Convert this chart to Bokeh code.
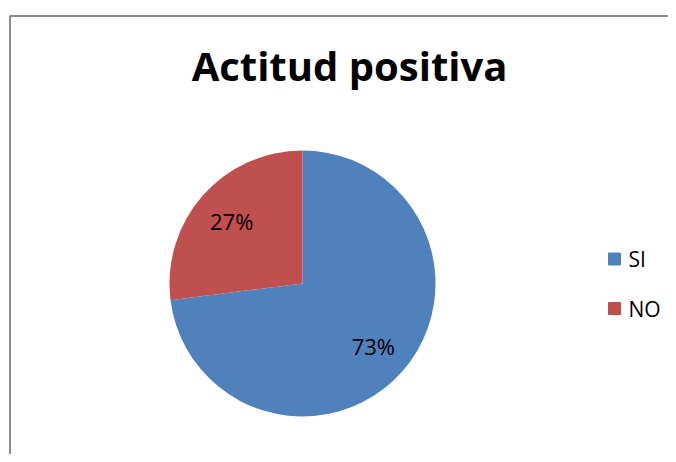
import math
from bokeh.plotting import figure
from bokeh.models import Range1d
from bokeh.core.properties import value
from bokeh.embed import file_html
from bokeh.resources import INLINE

title_text = "Actitud positiva"
categories = ["SI", "NO"]
values = [73, 27]
colors = ["#4F81BD", "#C0504D"]

W, H = 668, 454
p = figure(width=W, height=H, output_backend="svg", toolbar_location=None,
           x_range=Range1d(0, W), y_range=Range1d(0, H), min_border=0)
p.axis.visible = False
p.grid.visible = False
p.outline_line_color = None
p.background_fill_color = "white"

FONT = value("Open Sans")

# frame border (screen coords -> data: y = H - fy)
p.line([9.5, 9.5, W + 5], [-5, H - 15.5, H - 15.5], line_color="#8c8c8c", line_width=2)

cx, cy, r = 302, H - 283, 133
total = sum(values)
# SI goes clockwise from 12 o'clock; NO counterclockwise from 12 o'clock
frac_no = values[1] / total
a_no_start = math.pi / 2
a_no_end = math.pi / 2 + 2 * math.pi * frac_no
starts = [a_no_end, a_no_start]
ends = [a_no_start + 2 * math.pi, a_no_end]
for s, e, c in zip(starts, ends, colors):
    p.wedge(x=cx, y=cy, radius=r, start_angle=s, end_angle=e,
            fill_color=c, line_color=c, line_width=0)
for s, e, v in zip(starts, ends, values):
    m = (s + e) / 2
    p.text(x=cx + 0.71 * r * math.cos(m), y=cy + 0.71 * r * math.sin(m),
           text=[f"{round(v / total * 100)}%"], text_align="center", text_baseline="middle",
           text_font=FONT, text_font_size="22px", text_color="black")

# title
p.text(x=349, y=H - 65, text=[title_text], text_align="center", text_baseline="middle",
       text_font=FONT, text_font_style="bold", text_font_size="40px", text_color="black")

# legend
sq_y = [H - 258.5, H - 308]
for cat, c, yy in zip(categories, colors, sq_y):
    p.rect(x=614, y=yy, width=12, height=12, fill_color=c, line_color=c)
    p.text(x=628, y=yy, text=[cat], text_align="left", text_baseline="middle",
           text_font=FONT, text_font_size="21px", text_color="black")

open("out.html", "w").write(file_html(p, INLINE))
